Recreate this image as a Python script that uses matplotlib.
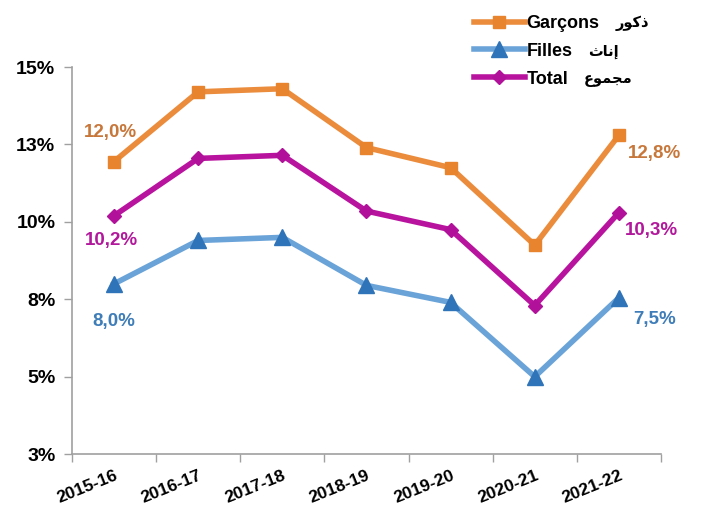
import matplotlib
matplotlib.use("Agg")
import matplotlib.pyplot as plt
import matplotlib.transforms as mtransforms
import numpy as np

plt.rcParams['font.family'] = ['Liberation Sans', 'DejaVu Sans']

years = ['2015-16', '2016-17', '2017-18', '2018-19', '2019-20', '2020-21', '2021-22']
garcons = [11.95, 14.2, 14.3, 12.4, 11.75, 9.25, 12.8]
filles = [8.0, 9.4, 9.5, 7.95, 7.4, 5.0, 7.55]
total = [10.2, 12.05, 12.15, 10.35, 9.75, 7.3, 10.3]

# labels shown at first / last point
labels_first = ['12,0%', '8,0%', '10,2%']
labels_last = ['12,8%', '7,5%', '10,3%']

yticks = [2.5, 5, 7.5, 10, 12.5, 15]
ytick_labels = ['3%', '5%', '8%', '10%', '13%', '15%']

# Arabic names (ذكور, إناث, مجموع) written in shaped presentation forms, visual order
arabic = ['\ufead\ufeee\ufedb\ufeab', '\ufe99\ufe8e\ufee7\ufe87', '\ufec9\ufeee\ufee4\ufea0\ufee3']

c_orange, c_blue, c_mag = '#EB8C3C', '#6AA3D8', '#B8139E'
m_orange, m_blue, m_mag = '#E8842E', '#2F74B8', '#B0109A'
t_orange, t_blue, t_mag = '#C8773A', '#3F7DB8', '#B2189C'

fig = plt.figure(figsize=(7.03, 5.08), dpi=100)
ax = fig.add_axes([0.1024, 0.106, 0.8378, 0.762])

x = np.arange(len(years))
series = [
    (garcons, 'Garçons', c_orange, m_orange, 's', 9, t_orange),
    (filles, 'Filles', c_blue, m_blue, '^', 11, t_blue),
    (total, 'Total', c_mag, m_mag, 'D', 7, t_mag),
]
offs_first = [(-4, 29), (0, -38), (-3, -25)]
offs_last = [(36, -18), (36, -22), (33, -18)]

lines = []
for i, (vals, name, lc, mc, mk, ms, tc) in enumerate(series):
    ln, = ax.plot(x, vals, color=lc, lw=4, marker=mk, markersize=ms,
                  markerfacecolor=mc, markeredgecolor=mc, label=name,
                  solid_joinstyle='round', clip_on=False)
    lines.append(ln)
    ax.annotate(labels_first[i], (x[0], vals[0]), xytext=offs_first[i],
                textcoords='offset pixels', ha='center', va='center',
                fontsize=13.5, fontweight='bold', color=tc)
    ax.annotate(labels_last[i], (x[-1], vals[-1]), xytext=offs_last[i],
                textcoords='offset pixels', ha='center', va='center',
                fontsize=13.5, fontweight='bold', color=tc)

ax.set_xlim(-0.5, len(years) - 0.5)
ax.set_ylim(2.5, 15)
ax.set_yticks(yticks)
ax.set_yticklabels(ytick_labels, fontsize=14, fontweight='bold')
ax.set_xticks(x)
ax.set_xticklabels(years, fontsize=12.5, fontweight='bold', rotation=22,
                   ha='right', va='top', rotation_mode='anchor')
shift = mtransforms.ScaledTranslation(2 / 100, 0, fig.dpi_scale_trans)
for lbl in ax.get_xticklabels():
    lbl.set_transform(lbl.get_transform() + shift)
ax.set_xticks(np.arange(-0.5, len(years)), minor=True)
ax.tick_params(axis='x', which='major', length=0, pad=10)
ax.tick_params(axis='x', which='minor', length=6, color='#a0a0a0', width=1)
ax.tick_params(axis='y', length=6, color='#a0a0a0', width=1, pad=6)

for s in ['top', 'right']:
    ax.spines[s].set_visible(False)
for s in ['left', 'bottom']:
    ax.spines[s].set_color('#a0a0a0')
    ax.spines[s].set_linewidth(1.2)

# legend order: Garçons, Filles, Total
leg = fig.legend(handles=lines, loc='upper left', bbox_to_anchor=(0.664, 0.985),
                 frameon=False, prop={'size': 13, 'weight': 'bold'},
                 handlelength=2.8, handletextpad=0.1, labelspacing=0.6,
                 borderaxespad=0)

fig.canvas.draw()
inv = fig.transFigure.inverted()
for t, ar in zip(leg.get_texts(), arabic):
    bb = t.get_window_extent()
    x0, y0 = inv.transform((bb.x1 + 16, (bb.y0 + bb.y1) / 2))
    fig.text(x0, y0, ar, fontsize=10.5, family='DejaVu Sans', va='center',
             ha='left', color='black', fontweight='bold')

fig.savefig('out.png', dpi=100)
